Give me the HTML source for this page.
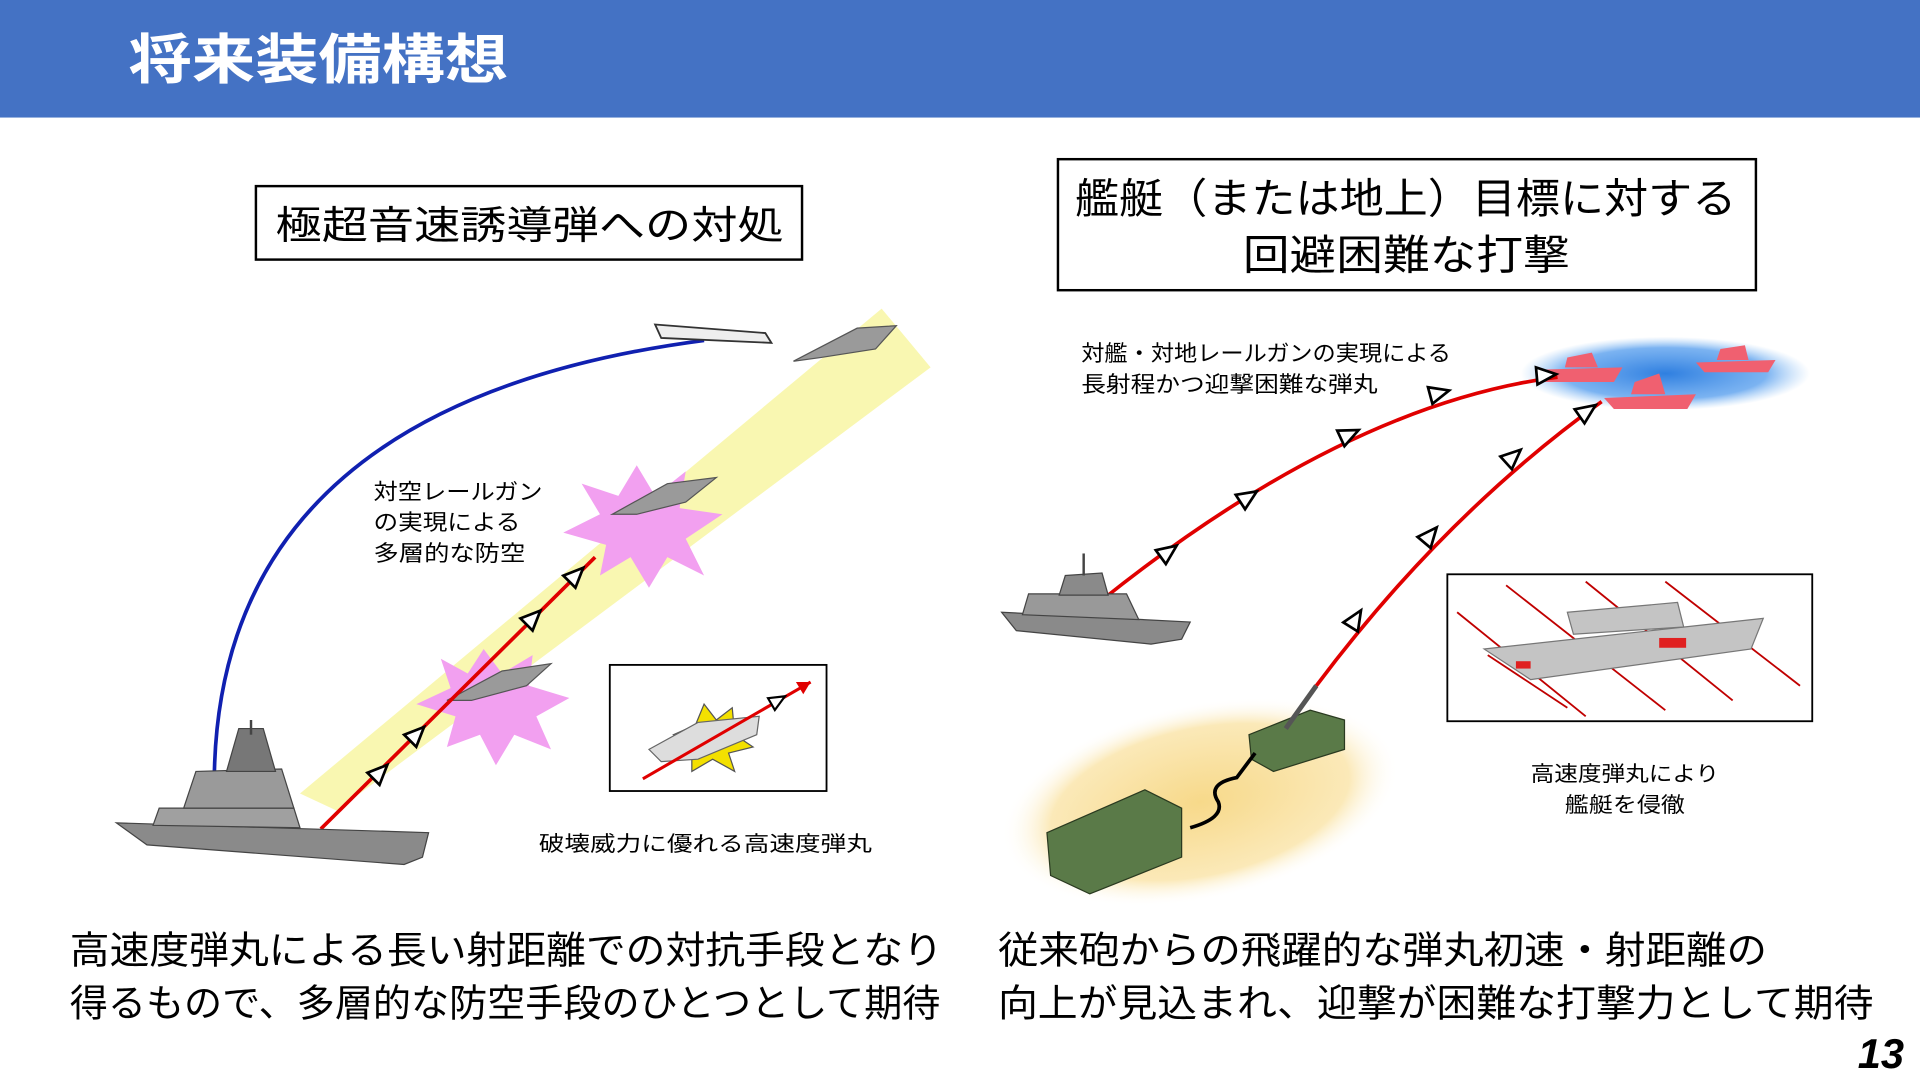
<!DOCTYPE html>
<html><head><meta charset="utf-8"><style>
html,body{margin:0;padding:0;background:#fff;}
svg{display:block}
text{font-family:"Liberation Sans","Noto Sans CJK JP",sans-serif;}
</style></head><body>
<svg width="1920" height="1080" viewBox="0 0 1568 882" xmlns="http://www.w3.org/2000/svg">
<defs>
<radialGradient id="bl" cx="50%" cy="50%" r="50%"><stop offset="0" stop-color="#2f7fe0"/><stop offset="0.7" stop-color="#5aa0ee" stop-opacity="0.8"/><stop offset="1" stop-color="#8cc0f5" stop-opacity="0"/></radialGradient>
<radialGradient id="yl" cx="50%" cy="50%" r="50%"><stop offset="0" stop-color="#f7d98a"/><stop offset="0.75" stop-color="#fbe9b8"/><stop offset="1" stop-color="#fff" stop-opacity="0"/></radialGradient>
<g id="ah"><polygon points="0,-7 16,0 0,7" fill="#fff" stroke="#000" stroke-width="2.2"/></g>
</defs>
<rect x="0" y="0" width="1568" height="96" fill="#4472C4"/>
<text x="105" y="64" font-size="44" font-weight="bold" fill="#fff" textLength="310" lengthAdjust="spacingAndGlyphs">将来装備構想</text>

<rect x="209" y="152" width="446" height="60" fill="#fff" stroke="#000" stroke-width="2"/>
<text x="225" y="195" font-size="32" textLength="415" lengthAdjust="spacingAndGlyphs">極超音速誘導弾への対処</text>
<rect x="864" y="130" width="570" height="107" fill="#fff" stroke="#000" stroke-width="2"/>
<text x="878" y="174" font-size="34" textLength="540" lengthAdjust="spacingAndGlyphs">艦艇（または地上）目標に対する</text>
<text x="1015" y="220" font-size="34" textLength="267" lengthAdjust="spacingAndGlyphs">回避困難な打撃</text>

<polygon points="245,648 720,252 760,300 275,662" fill="#f8f6a8" opacity="0.9"/>
<path d="M175,636 Q178,330 575,278" fill="none" stroke="#1020b0" stroke-width="3"/>
<g fill="#f2a0f0">
<polygon points="520,380 535,405 560,385 555,415 590,420 560,440 575,470 545,455 530,480 515,455 490,470 495,445 460,435 490,420 475,395 505,405"/>
<polygon points="395,530 410,550 435,535 432,560 465,570 438,585 450,612 420,600 405,625 392,600 365,610 372,585 340,575 368,562 360,538 382,550"/>
</g>
<g fill="#9a9a9a" stroke="#555" stroke-width="1">
<polygon points="648,295 700,268 732,266 715,285 670,292"/>
<polygon points="500,420 545,395 585,390 560,410 520,420"/>
<polygon points="365,572 410,548 450,542 430,560 385,572"/>
</g>
<polygon points="535,265 625,272 630,280 540,276" fill="#eee" stroke="#333" stroke-width="1.5"/>
<line x1="262" y1="677" x2="486" y2="455" stroke="#e00000" stroke-width="3"/>
<use href="#ah" transform="translate(305,636) rotate(-45)"/>
<use href="#ah" transform="translate(335,605) rotate(-45)"/>
<use href="#ah" transform="translate(430,510) rotate(-45)"/>
<use href="#ah" transform="translate(465,475) rotate(-45)"/>
<g fill="#8a8a8a" stroke="#444" stroke-width="1">
<polygon points="95,672 350,680 345,700 330,706 120,690"/>
<polygon points="130,660 240,660 245,676 125,674" fill="#a0a0a0"/>
<polygon points="160,630 230,628 240,660 150,660" fill="#9a9a9a"/>
<polygon points="195,595 215,595 225,630 185,630" fill="#777"/>
</g>
<line x1="205" y1="588" x2="205" y2="600" stroke="#444" stroke-width="2"/>
<text font-size="18" x="305" y="408" textLength="138" lengthAdjust="spacingAndGlyphs">対空レールガン</text>
<text font-size="18" x="305" y="433" textLength="120" lengthAdjust="spacingAndGlyphs">の実現による</text>
<text font-size="18" x="305" y="458" textLength="124" lengthAdjust="spacingAndGlyphs">多層的な防空</text>
<rect x="498" y="543" width="177" height="103" fill="#fff" stroke="#000" stroke-width="1.5"/>
<polygon points="575,575 585,588 598,578 600,600 615,610 595,615 600,630 582,620 565,630 565,610 550,600 568,592" fill="#f3e000" stroke="#555"/>
<polygon points="530,612 570,590 620,585 618,600 570,620 540,622" fill="#ddd" stroke="#666"/>
<line x1="525" y1="636" x2="662" y2="557" stroke="#e00000" stroke-width="2.5"/>
<use href="#ah" transform="translate(630,575) rotate(-30) scale(0.8)"/>
<polygon points="662,557 650,557 656,567" fill="#e00000"/>
<text font-size="17" x="440" y="695" textLength="272" lengthAdjust="spacingAndGlyphs">破壊威力に優れる高速度弾丸</text>

<ellipse cx="1360" cy="305" rx="118" ry="30" fill="url(#bl)"/>
<g fill="#f06070">
<polygon points="1255,302 1325,300 1318,312 1262,312"/><polygon points="1280,292 1300,288 1305,300 1278,300"/>
<polygon points="1385,296 1450,294 1444,304 1392,304"/><polygon points="1405,285 1425,282 1428,294 1402,294"/>
<polygon points="1310,325 1385,322 1378,334 1318,334"/><polygon points="1335,312 1355,305 1360,322 1332,322"/>
</g>
<ellipse cx="980" cy="655" rx="165" ry="80" fill="url(#yl)" transform="rotate(-12 980 655)"/>
<path d="M900,490 Q1100,330 1272,308" fill="none" stroke="#e00000" stroke-width="3"/>
<path d="M1075,560 Q1180,420 1308,328" fill="none" stroke="#e00000" stroke-width="3"/>
<use href="#ah" transform="translate(948,455) rotate(-36)"/>
<use href="#ah" transform="translate(1013,410) rotate(-33)"/>
<use href="#ah" transform="translate(1095,358) rotate(-25)"/>
<use href="#ah" transform="translate(1168,323) rotate(-15)"/>
<use href="#ah" transform="translate(1255,307) rotate(-5)"/>
<use href="#ah" transform="translate(1103,512) rotate(-58)"/>
<use href="#ah" transform="translate(1163,443) rotate(-50)"/>
<use href="#ah" transform="translate(1230,378) rotate(-42)"/>
<use href="#ah" transform="translate(1290,340) rotate(-35)"/>
<g fill="#8a8a8a" stroke="#444" stroke-width="1">
<polygon points="818,500 972,508 965,522 940,526 830,515"/>
<polygon points="840,485 920,485 930,506 835,502" fill="#999"/>
<polygon points="870,470 900,468 905,486 865,486"/>
</g>
<line x1="885" y1="452" x2="885" y2="470" stroke="#444" stroke-width="2"/>
<text font-size="18" x="883" y="295" textLength="302" lengthAdjust="spacingAndGlyphs">対艦・対地レールガンの実現による</text>
<text font-size="18" x="883" y="320" textLength="242" lengthAdjust="spacingAndGlyphs">長射程かつ迎撃困難な弾丸</text>
<g fill="#5a7a48" stroke="#2a3a20" stroke-width="1">
<polygon points="855,680 935,645 965,660 965,700 890,730 858,715"/>
<polygon points="1020,600 1070,580 1098,588 1098,612 1040,630 1022,620"/>
</g>
<path d="M972,676 Q1000,668 995,655 Q985,640 1010,635 L1025,615" fill="none" stroke="#000" stroke-width="3"/>
<line x1="1050" y1="595" x2="1075" y2="560" stroke="#555" stroke-width="4"/>
<rect x="1182" y="469" width="298" height="120" fill="#fff" stroke="#000" stroke-width="1.5"/>
<g stroke="#c00000" stroke-width="1.5">
<line x1="1190" y1="500" x2="1295" y2="585"/><line x1="1230" y1="478" x2="1360" y2="580"/>
<line x1="1295" y1="475" x2="1415" y2="572"/><line x1="1360" y1="475" x2="1470" y2="560"/>
<line x1="1215" y1="535" x2="1280" y2="578"/>
</g>
<g fill="#c4c4c4" stroke="#777" stroke-width="1">
<polygon points="1212,530 1440,505 1430,530 1250,555"/>
<polygon points="1280,500 1370,492 1375,512 1285,518"/>
</g>
<rect x="1355" y="521" width="22" height="8" fill="#e02020"/>
<rect x="1238" y="540" width="12" height="6" fill="#e02020"/>
<text font-size="17" x="1250" y="638" textLength="154" lengthAdjust="spacingAndGlyphs">高速度弾丸により</text>
<text font-size="17" x="1278" y="663" textLength="98" lengthAdjust="spacingAndGlyphs">艦艇を侵徹</text>

<text font-size="31" x="57" y="787" textLength="713" lengthAdjust="spacingAndGlyphs">高速度弾丸による長い射距離での対抗手段となり</text>
<text font-size="31" x="57" y="830" textLength="711" lengthAdjust="spacingAndGlyphs">得るもので、多層的な防空手段のひとつとして期待</text>
<text font-size="31" x="815" y="787" textLength="628" lengthAdjust="spacingAndGlyphs">従来砲からの飛躍的な弾丸初速・射距離の</text>
<text font-size="31" x="815" y="830" textLength="715" lengthAdjust="spacingAndGlyphs">向上が見込まれ、迎撃が困難な打撃力として期待</text>
<text font-size="34" x="1555" y="872" text-anchor="end" font-weight="bold" font-style="italic">13</text>
</svg>
</body></html>
